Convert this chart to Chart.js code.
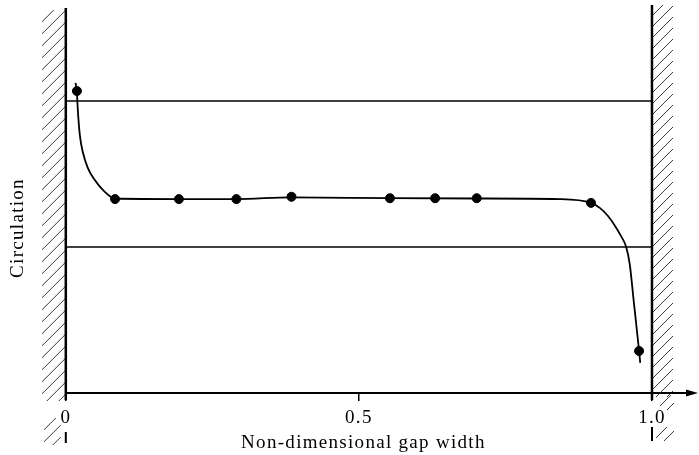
<!DOCTYPE html>
<html>
<head>
<meta charset="utf-8">
<script src="https://cdn.jsdelivr.net/npm/chart.js@4.4.1/dist/chart.umd.min.js"></script>
<style>
  body { margin: 0; background: #fff; }
</style>
</head>
<body>
<canvas id="chart" width="699" height="455"></canvas>
<script>
// measured points (gap width 0..1, circulation in arbitrary units)
const markerX = [0.019, 0.084, 0.193, 0.291, 0.385, 0.553, 0.630, 0.701, 0.896, 0.978];
const markerY = [1.034, 0.664, 0.664, 0.664, 0.672, 0.667, 0.667, 0.667, 0.651, 0.144];

// the faired curve
const curveX = [0.0166, 0.0188, 0.0205, 0.0239, 0.0290, 0.0375, 0.0495, 0.0648, 0.0836, 0.193, 0.291, 0.385, 0.553, 0.701, 0.843, 0.896, 0.911, 0.925, 0.937, 0.947, 0.956, 0.962, 0.969, 0.978, 0.980];
const curveY = [1.062, 1.034, 0.969, 0.884, 0.825, 0.771, 0.729, 0.692, 0.666, 0.664, 0.664, 0.670, 0.667, 0.666, 0.664, 0.651, 0.634, 0.606, 0.572, 0.538, 0.500, 0.442, 0.312, 0.144, 0.103];

// horizontal reference levels, drawn wall to wall
const levelY = [1.0, 0.5];
const wallX = [0, 1.0];

const tickValues = [0, 0.5, 1.0];
const tickLabels = ['0', '0.5', '1.0'];

Chart.defaults.font.family = "'Liberation Serif', 'DejaVu Serif', serif";
Chart.defaults.font.size = 19;
Chart.defaults.color = '#000';

const toPts = (xs, ys) => xs.map((x, i) => ({ x, y: ys[i] }));

function hatch(ctx, x0, x1, y0, y1, step) {
    const w = x1 - x0;
    ctx.save();
    ctx.beginPath();
    ctx.rect(x0, y0, w, y1 - y0);
    ctx.clip();
    ctx.beginPath();
    for (let y = y0 - w; y < y1 + w; y += step) {
        ctx.moveTo(x0, y + w);
        ctx.lineTo(x1, y);
    }
    ctx.strokeStyle = '#222';
    ctx.lineWidth = 0.9;
    ctx.stroke();
    ctx.restore();
}

function vline(ctx, x, y0, y1, w) {
    ctx.beginPath();
    ctx.moveTo(x, y0);
    ctx.lineTo(x, y1);
    ctx.lineWidth = w;
    ctx.strokeStyle = '#000';
    ctx.stroke();
}

const spacing = {
    id: 'spacing',
    beforeUpdate(chart) { chart.ctx.letterSpacing = '1.3px'; },
    beforeDraw(chart) { chart.ctx.letterSpacing = '1.3px'; }
};

const walls = {
    id: 'walls',
    afterDraw(chart) {
        const ctx = chart.ctx;
        const xs = chart.scales.x;
        const area = chart.chartArea;
        const xl = xs.getPixelForValue(wallX[0]);
        const xr = xs.getPixelForValue(wallX[1]);
        ctx.save();
        // left wall
        hatch(ctx, xl - 24, xl, 10, 401, 12);
        hatch(ctx, xl - 22, xl - 5, 418, 445, 12);
        vline(ctx, xl, 8, 400, 2.5);
        vline(ctx, xl, 432, 443, 2);
        // right wall
        hatch(ctx, xr, xr + 21, 5, 397, 11);
        hatch(ctx, xr + 8, xr + 22, 395, 410, 11);
        hatch(ctx, xr + 4, xr + 22, 427, 441, 11);
        vline(ctx, xr, 5, 400, 2.5);
        vline(ctx, xr, 427, 441, 2);
        // axis extension with arrow head
        const yb = area.bottom;
        ctx.beginPath();
        ctx.moveTo(area.right, yb);
        ctx.lineTo(690, yb);
        ctx.lineWidth = 2;
        ctx.strokeStyle = '#000';
        ctx.stroke();
        ctx.beginPath();
        ctx.moveTo(686, yb - 3.5);
        ctx.lineTo(698, yb);
        ctx.lineTo(686, yb + 3.5);
        ctx.closePath();
        ctx.fillStyle = '#000';
        ctx.fill();
        ctx.restore();
    }
};

new Chart(document.getElementById('chart'), {
    type: 'scatter',
    data: {
        datasets: [
            {
                label: 'Curve',
                data: toPts(curveX, curveY),
                showLine: true,
                cubicInterpolationMode: 'monotone',
                borderColor: '#000',
                borderWidth: 1.8,
                pointRadius: 0
            },
            {
                label: 'Measured',
                data: toPts(markerX, markerY),
                pointRadius: 4.5,
                pointBackgroundColor: '#000',
                pointBorderColor: '#000'
            },
            ...levelY.map(v => ({
                label: 'Level ' + v,
                data: toPts(wallX, [v, v]),
                showLine: true,
                borderColor: '#000',
                borderWidth: 1.5,
                pointRadius: 0
            }))
        ]
    },
    options: {
        responsive: false,
        animation: false,
        layout: { padding: { left: 0, right: 38, top: 63, bottom: 0 } },
        plugins: {
            legend: { display: false },
            tooltip: { enabled: false }
        },
        scales: {
            x: {
                type: 'linear',
                min: 0,
                max: 1.0154,
                afterBuildTicks: axis => { axis.ticks = tickValues.map(v => ({ value: v })); },
                afterFit: axis => { axis.height = 62; },
                ticks: {
                    padding: 6,
                    maxRotation: 0,
                    callback: (v) => tickLabels[tickValues.indexOf(v)]
                },
                grid: {
                    drawOnChartArea: false,
                    drawTicks: true,
                    tickLength: 8,
                    color: '#000',
                    lineWidth: 1.5
                },
                border: { display: true, color: '#000', width: 2 },
                title: {
                    display: true,
                    text: 'Non-dimensional gap width',
                    padding: { top: 3, bottom: 1 }
                }
            },
            y: {
                min: 0,
                max: 1.13,
                ticks: { display: false },
                grid: { display: false, drawTicks: false },
                border: { display: false },
                title: {
                    display: true,
                    text: 'Circulation',
                    padding: { top: 7, bottom: 36 }
                }
            }
        }
    },
    plugins: [spacing, walls]
});
</script>
</body>
</html>
